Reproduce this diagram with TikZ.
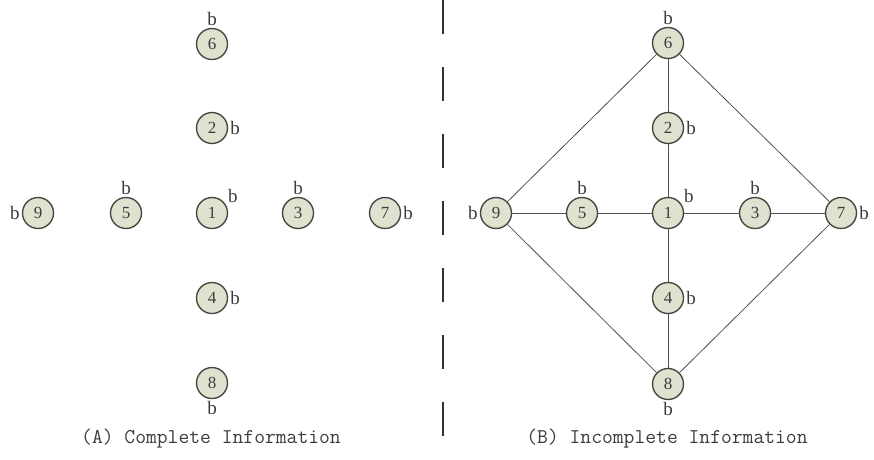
\documentclass[tikz,border=0pt]{standalone}
\usepackage{fontspec}
\usepackage{xcolor}
\usepackage{tikz}
\usetikzlibrary{positioning}
\setmainfont{Liberation Serif}
\definecolor{nodefill}{RGB}{221, 227, 206}
\definecolor{nodeline}{RGB}{70, 72, 68}
\definecolor{edgegray}{RGB}{80, 80, 80}
\definecolor{textgray}{RGB}{60, 60, 60}
\tikzset{
    player/.style={circle, fill=nodefill, draw=nodeline, line width=1.4pt, minimum size=31pt, inner sep=0pt, font=\fontsize{17}{17}\selectfont, text=textgray},
    blabel/.style={font=\fontsize{19}{19}\selectfont, text=textgray, inner sep=2pt},
    link/.style={edgegray, line width=0.8pt},
    caption/.style={font=\ttfamily\fontsize{21}{21}\selectfont, text=textgray}
}

\begin{document}
\begin{tikzpicture}[x=1pt, y=-1pt]
    \useasboundingbox (0,0) rectangle (874,459);

    % Divider
    \draw[black!80, line width=1.2pt, dash pattern=on 34pt off 33pt] (443,0) -- (443,459);

    % (A) Complete Information
    \node[player, label={[blabel]above:b}] (a6) at (212,44) {6};
    \node[player, label={[blabel]right:b}] (a2) at (212,128) {2};
    \node[player, label={[blabel]30:b}] (a1) at (212,213) {1};
    \node[player, label={[blabel]right:b}] (a4) at (212,298) {4};
    \node[player, label={[blabel]below:b}] (a8) at (212,383) {8};
    \node[player, label={[blabel]left:b}] (a9) at (38,213) {9};
    \node[player, label={[blabel]above:b}] (a5) at (126,213) {5};
    \node[player, label={[blabel]above:b}] (a3) at (298,213) {3};
    \node[player, label={[blabel]right:b}] (a7) at (385,213) {7};
    \node[caption] (capA) at (211,439) {(A) Complete Information};

    % (B) Incomplete Information
    \node[player, label={[blabel]above:b}] (b6) at (668,43) {6};
    \node[player, label={[blabel]right:b}] (b2) at (668,128) {2};
    \node[player, label={[blabel]30:b}] (b1) at (668,213) {1};
    \node[player, label={[blabel]right:b}] (b4) at (668,298) {4};
    \node[player, label={[blabel]below:b}] (b8) at (668,384) {8};
    \node[player, label={[blabel]left:b}] (b9) at (496,213) {9};
    \node[player, label={[blabel]above:b}] (b5) at (582,213) {5};
    \node[player, label={[blabel]above:b}] (b3) at (755,213) {3};
    \node[player, label={[blabel]right:b}] (b7) at (841,213) {7};
    \node[caption] (capB) at (667,439) {(B) Incomplete Information};

    % Links
    \draw[link] (b6) -- (b2) -- (b1) -- (b4) -- (b8);
    \draw[link] (b9) -- (b5) -- (b1) -- (b3) -- (b7);
    \draw[link] (b6) -- (b9) -- (b8) -- (b7) -- (b6);
\end{tikzpicture}
\end{document}
